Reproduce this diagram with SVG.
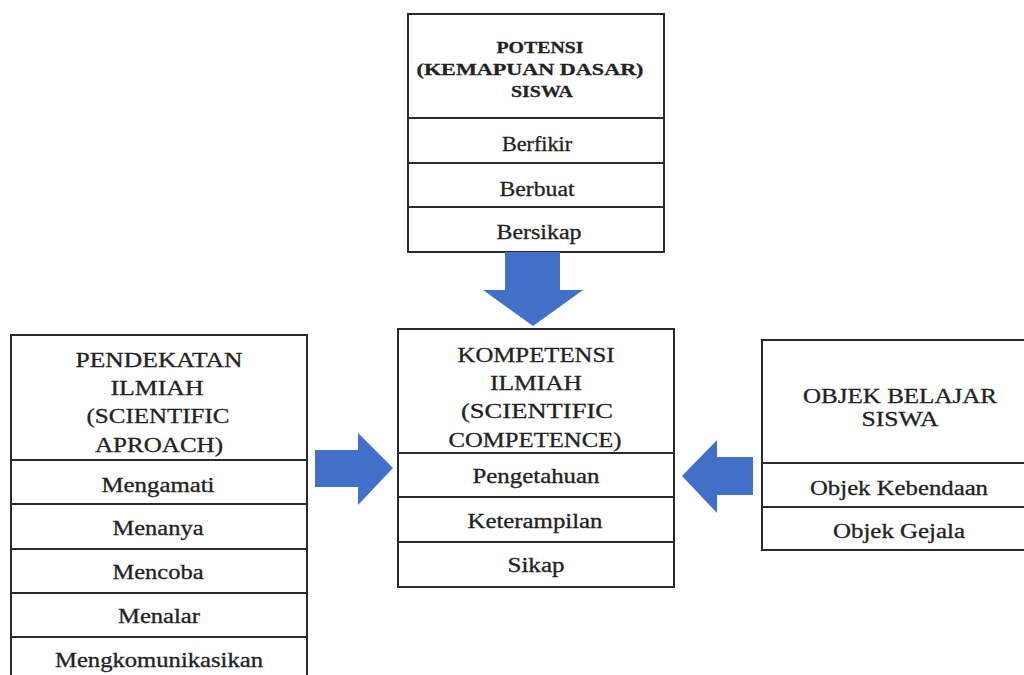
<svg xmlns="http://www.w3.org/2000/svg" width="1024" height="675" viewBox="0 0 1024 675">
<style>
.box{fill:#fff;stroke:#2a2a2a;stroke-width:2}
.ln{stroke:#2a2a2a;stroke-width:2.2}
text{font-family:"Liberation Serif","Times New Roman",serif;fill:#222;text-anchor:middle;stroke:#222;stroke-width:0.3}
.h{font-size:21.5px}
.hb{font-size:17.5px;font-weight:bold}
.r{font-size:20px}
.arr{fill:#4270c8}
</style>
<rect width="1024" height="675" fill="#fff"/>
<g id="potensi">
<rect class="box" x="408" y="14" width="256" height="238"/>
<line class="ln" x1="408" y1="118" x2="664" y2="118"/>
<line class="ln" x1="408" y1="163" x2="664" y2="163"/>
<line class="ln" x1="408" y1="207" x2="664" y2="207"/>
<text class="hb" x="540" y="53" textLength="87" lengthAdjust="spacingAndGlyphs">POTENSI</text>
<text class="hb" x="530" y="75" textLength="227" lengthAdjust="spacingAndGlyphs">(KEMAPUAN DASAR)</text>
<text class="hb" x="542" y="97" textLength="62" lengthAdjust="spacingAndGlyphs">SISWA</text>
<text class="r" x="537" y="151" textLength="70" lengthAdjust="spacingAndGlyphs">Berfikir</text>
<text class="r" x="537" y="196" textLength="75" lengthAdjust="spacingAndGlyphs">Berbuat</text>
<text class="r" x="539" y="239" textLength="85" lengthAdjust="spacingAndGlyphs">Bersikap</text>
</g>
<g id="pendekatan">
<path class="box" d="M11 676 V335 H307 V676"/>
<line class="ln" x1="11" y1="460" x2="307" y2="460"/>
<line class="ln" x1="11" y1="504" x2="307" y2="504"/>
<line class="ln" x1="11" y1="549" x2="307" y2="549"/>
<line class="ln" x1="11" y1="593" x2="307" y2="593"/>
<line class="ln" x1="11" y1="637" x2="307" y2="637"/>
<text class="h" x="159" y="367" textLength="167" lengthAdjust="spacingAndGlyphs">PENDEKATAN</text>
<text class="h" x="157" y="395" textLength="93" lengthAdjust="spacingAndGlyphs">ILMIAH</text>
<text class="h" x="158" y="423" textLength="143" lengthAdjust="spacingAndGlyphs">(SCIENTIFIC</text>
<text class="h" x="159" y="452" textLength="128" lengthAdjust="spacingAndGlyphs">APROACH)</text>
<text class="r" x="158" y="492" textLength="113" lengthAdjust="spacingAndGlyphs">Mengamati</text>
<text class="r" x="158" y="535" textLength="91" lengthAdjust="spacingAndGlyphs">Menanya</text>
<text class="r" x="158" y="579" textLength="91" lengthAdjust="spacingAndGlyphs">Mencoba</text>
<text class="r" x="159" y="623" textLength="82" lengthAdjust="spacingAndGlyphs">Menalar</text>
<text class="r" x="159" y="667" textLength="208" lengthAdjust="spacingAndGlyphs">Mengkomunikasikan</text>
</g>
<g id="kompetensi">
<rect class="box" x="398" y="329" width="276" height="258"/>
<line class="ln" x1="398" y1="453" x2="674" y2="453"/>
<line class="ln" x1="398" y1="497" x2="674" y2="497"/>
<line class="ln" x1="398" y1="542" x2="674" y2="542"/>
<text class="h" x="536" y="362" textLength="157" lengthAdjust="spacingAndGlyphs">KOMPETENSI</text>
<text class="h" x="536" y="390" textLength="92" lengthAdjust="spacingAndGlyphs">ILMIAH</text>
<text class="h" x="537" y="418" textLength="152" lengthAdjust="spacingAndGlyphs">(SCIENTIFIC</text>
<text class="h" x="535" y="447" textLength="173" lengthAdjust="spacingAndGlyphs">COMPETENCE)</text>
<text class="r" x="536" y="483" textLength="127" lengthAdjust="spacingAndGlyphs">Pengetahuan</text>
<text class="r" x="535" y="528" textLength="135" lengthAdjust="spacingAndGlyphs">Keterampilan</text>
<text class="r" x="536" y="572" textLength="57" lengthAdjust="spacingAndGlyphs">Sikap</text>
</g>
<g id="objek">
<rect class="box" x="762" y="340" width="280" height="210"/>
<line class="ln" x1="762" y1="463" x2="1042" y2="463"/>
<line class="ln" x1="762" y1="507" x2="1042" y2="507"/>
<text class="h" x="900" y="403" textLength="194" lengthAdjust="spacingAndGlyphs">OBJEK BELAJAR</text>
<text class="h" x="900" y="426" textLength="77" lengthAdjust="spacingAndGlyphs">SISWA</text>
<text class="r" x="899" y="495" textLength="178" lengthAdjust="spacingAndGlyphs">Objek Kebendaan</text>
<text class="r" x="899" y="538" textLength="132" lengthAdjust="spacingAndGlyphs">Objek Gejala</text>
</g>
<g id="connectors">
<polygon class="arr" points="505,252 560,252 560,290 583,290 533,326 483,290 505,290"/>
<polygon class="arr" points="315,450 358,450 358,433 393,468 358,505 358,487 315,487"/>
<polygon class="arr" points="753,457 717,457 717,440 682,476 717,513 717,495 753,495"/>
</g>
</svg>
